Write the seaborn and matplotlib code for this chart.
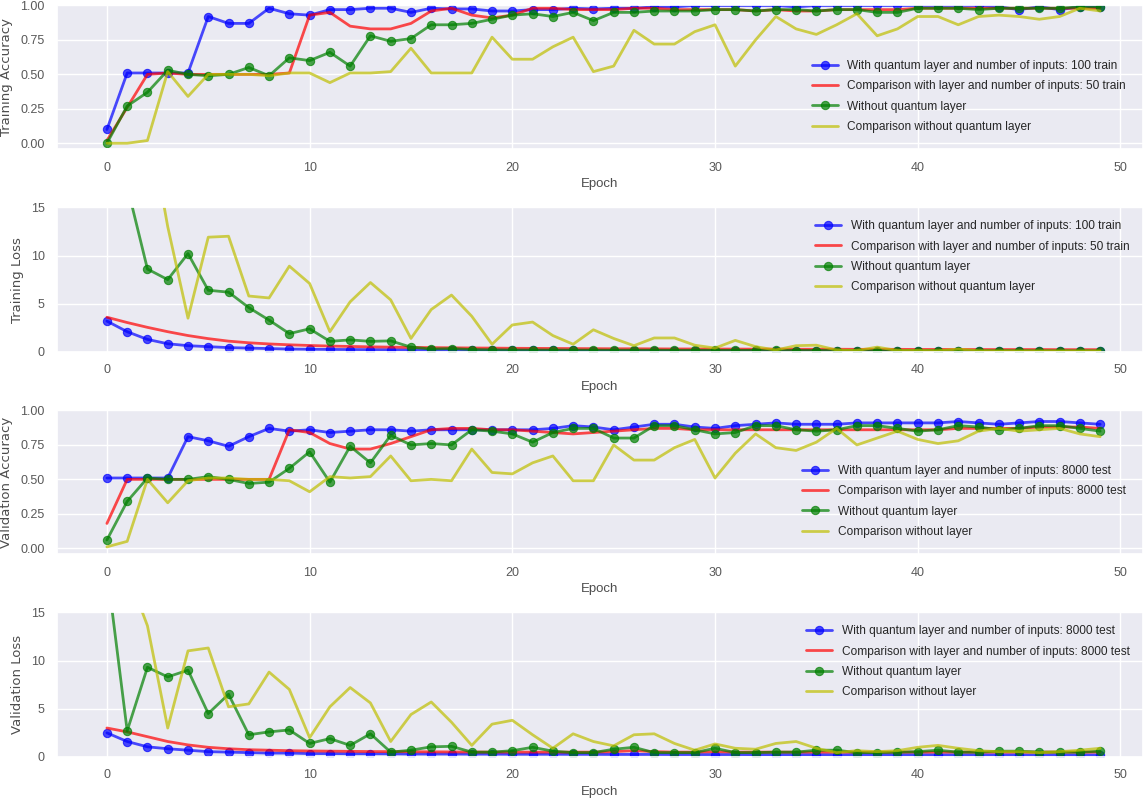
import matplotlib
matplotlib.use("Agg")
import matplotlib.pyplot as plt
import seaborn as sns
import numpy as np
from matplotlib.ticker import FormatStrFormatter

epochs = list(range(50))

# Panel 1: training accuracy
train_acc_q = [0.10, 0.51, 0.51, 0.51, 0.51, 0.92, 0.87, 0.87, 0.98, 0.94,
               0.93, 0.97, 0.97, 0.98, 0.98, 0.95, 0.98, 0.975, 0.975, 0.96,
               0.96, 0.97, 0.97, 0.98, 0.975, 0.98, 0.98, 0.99, 0.99, 1.00,
               1.00, 1.00, 1.00, 1.00, 0.99, 1.00, 1.00, 1.00, 1.00, 1.00,
               1.00, 1.00, 1.00, 1.00, 0.99, 0.97, 0.99, 0.97, 0.99, 0.99]
train_acc_cmp = [0.02, 0.26, 0.50, 0.51, 0.50, 0.50, 0.50, 0.50, 0.50, 0.51,
                 0.93, 0.95, 0.85, 0.83, 0.83, 0.87, 0.96, 0.98, 0.93, 0.91,
                 0.93, 0.98, 0.98, 0.97, 0.97, 0.97, 0.98, 0.98, 0.97, 0.97,
                 0.97, 0.97, 0.96, 0.97, 0.96, 0.96, 0.97, 0.97, 0.97, 0.97,
                 0.98, 0.98, 0.98, 0.98, 0.98, 0.98, 0.98, 0.98, 0.98, 0.98]
train_acc_nq = [0.00, 0.27, 0.37, 0.53, 0.50, 0.49, 0.50, 0.55, 0.49, 0.62,
                0.60, 0.66, 0.56, 0.78, 0.74, 0.76, 0.86, 0.86, 0.87, 0.90,
                0.93, 0.94, 0.92, 0.95, 0.89, 0.95, 0.95, 0.96, 0.96, 0.96,
                0.97, 0.97, 0.96, 0.97, 0.97, 0.96, 0.97, 0.97, 0.95, 0.95,
                0.98, 0.98, 0.98, 0.97, 0.98, 0.98, 0.98, 0.98, 0.99, 0.99]
train_acc_cmp_nq = [0.00, 0.00, 0.02, 0.52, 0.34, 0.50, 0.50, 0.50, 0.49, 0.51,
                    0.51, 0.44, 0.51, 0.51, 0.52, 0.69, 0.51, 0.51, 0.51, 0.77,
                    0.61, 0.61, 0.70, 0.77, 0.52, 0.56, 0.82, 0.72, 0.72, 0.81,
                    0.86, 0.56, 0.75, 0.92, 0.83, 0.79, 0.86, 0.94, 0.78, 0.83,
                    0.92, 0.92, 0.86, 0.92, 0.93, 0.92, 0.90, 0.92, 0.98, 0.96]

# Panel 2: training loss
train_loss_q = [3.2, 2.1, 1.3, 0.85, 0.65, 0.55, 0.45, 0.40, 0.35, 0.30,
                0.28, 0.26, 0.25, 0.24, 0.23, 0.22, 0.20, 0.20, 0.19, 0.18,
                0.17, 0.17, 0.16, 0.16, 0.15, 0.15, 0.14, 0.14, 0.13, 0.13,
                0.12, 0.12, 0.12, 0.11, 0.11, 0.11, 0.10, 0.10, 0.10, 0.10,
                0.09, 0.09, 0.09, 0.09, 0.08, 0.08, 0.08, 0.08, 0.08, 0.07]
train_loss_cmp = [3.6, 3.05, 2.55, 2.1, 1.7, 1.38, 1.12, 0.95, 0.83, 0.74,
                  0.67, 0.61, 0.57, 0.53, 0.50, 0.47, 0.45, 0.43, 0.41, 0.40,
                  0.38, 0.37, 0.36, 0.35, 0.34, 0.33, 0.33, 0.32, 0.31, 0.31,
                  0.30, 0.30, 0.29, 0.29, 0.28, 0.28, 0.28, 0.27, 0.27, 0.27,
                  0.26, 0.26, 0.26, 0.25, 0.25, 0.25, 0.25, 0.24, 0.24, 0.24]
train_loss_nq = [30.0, 17.2, 8.6, 7.5, 10.2, 6.4, 6.2, 4.6, 3.3, 1.9,
                 2.4, 1.1, 1.25, 1.1, 1.15, 0.5, 0.3, 0.35, 0.25, 0.22,
                 0.20, 0.20, 0.20, 0.19, 0.19, 0.18, 0.18, 0.18, 0.17, 0.17,
                 0.17, 0.16, 0.16, 0.16, 0.15, 0.15, 0.15, 0.15, 0.14, 0.14,
                 0.14, 0.14, 0.13, 0.13, 0.13, 0.13, 0.12, 0.12, 0.12, 0.12]
train_loss_cmp_nq = [45.0, 35.0, 24.7, 13.0, 3.5, 11.9, 12.0, 5.8, 5.6, 8.9,
                     7.1, 2.1, 5.2, 7.2, 5.4, 1.4, 4.4, 5.9, 3.7, 0.8,
                     2.8, 3.1, 1.7, 0.8, 2.3, 1.4, 0.65, 1.45, 1.45, 0.7,
                     0.4, 1.2, 0.55, 0.2, 0.65, 0.7, 0.2, 0.15, 0.5, 0.15,
                     0.15, 0.12, 0.3, 0.12, 0.1, 0.1, 0.1, 0.1, 0.1, 0.1]

# Panel 3: validation accuracy
val_acc_q = [0.51, 0.51, 0.51, 0.51, 0.81, 0.78, 0.74, 0.81, 0.87, 0.85,
             0.86, 0.84, 0.85, 0.86, 0.86, 0.85, 0.86, 0.86, 0.86, 0.86,
             0.86, 0.86, 0.87, 0.89, 0.88, 0.86, 0.88, 0.90, 0.90, 0.88,
             0.87, 0.89, 0.90, 0.91, 0.90, 0.90, 0.90, 0.91, 0.91, 0.91,
             0.91, 0.91, 0.92, 0.91, 0.90, 0.91, 0.92, 0.92, 0.91, 0.90]
val_acc_cmp = [0.18, 0.50, 0.50, 0.50, 0.50, 0.50, 0.50, 0.50, 0.50, 0.86,
               0.84, 0.76, 0.72, 0.72, 0.76, 0.81, 0.86, 0.87, 0.87, 0.86,
               0.86, 0.85, 0.84, 0.83, 0.84, 0.85, 0.86, 0.87, 0.87, 0.86,
               0.86, 0.86, 0.86, 0.86, 0.86, 0.86, 0.86, 0.86, 0.86, 0.86,
               0.86, 0.86, 0.87, 0.87, 0.87, 0.87, 0.88, 0.88, 0.88, 0.87]
val_acc_nq = [0.06, 0.34, 0.51, 0.50, 0.50, 0.52, 0.50, 0.47, 0.48, 0.58,
              0.70, 0.48, 0.74, 0.62, 0.82, 0.75, 0.76, 0.75, 0.86, 0.85,
              0.83, 0.77, 0.84, 0.87, 0.87, 0.80, 0.80, 0.89, 0.89, 0.86,
              0.83, 0.84, 0.89, 0.89, 0.86, 0.85, 0.86, 0.89, 0.89, 0.87,
              0.85, 0.86, 0.89, 0.88, 0.86, 0.87, 0.89, 0.89, 0.87, 0.85]
val_acc_cmp_nq = [0.01, 0.05, 0.50, 0.33, 0.49, 0.51, 0.51, 0.50, 0.50, 0.49,
                  0.41, 0.52, 0.51, 0.52, 0.67, 0.49, 0.50, 0.49, 0.72, 0.55,
                  0.54, 0.62, 0.67, 0.49, 0.49, 0.75, 0.64, 0.64, 0.73, 0.79,
                  0.51, 0.69, 0.83, 0.73, 0.71, 0.77, 0.87, 0.75, 0.80, 0.85,
                  0.79, 0.76, 0.78, 0.85, 0.87, 0.85, 0.86, 0.87, 0.83, 0.81]

# Panel 4: validation loss
val_loss_q = [2.5, 1.6, 1.05, 0.85, 0.7, 0.55, 0.5, 0.45, 0.4, 0.4,
              0.35, 0.35, 0.33, 0.33, 0.32, 0.30, 0.30, 0.30, 0.29, 0.29,
              0.28, 0.28, 0.28, 0.27, 0.27, 0.26, 0.26, 0.26, 0.25, 0.25,
              0.25, 0.25, 0.24, 0.24, 0.24, 0.24, 0.23, 0.23, 0.23, 0.23,
              0.23, 0.22, 0.22, 0.22, 0.22, 0.22, 0.21, 0.21, 0.21, 0.21]
val_loss_cmp = [3.0, 2.6, 2.1, 1.6, 1.25, 1.0, 0.85, 0.75, 0.7, 0.65,
                0.62, 0.6, 0.58, 0.56, 0.55, 0.54, 0.53, 0.52, 0.51, 0.5,
                0.5, 0.5, 0.5, 0.5, 0.5, 0.55, 0.65, 0.55, 0.5, 0.5,
                0.55, 0.5, 0.5, 0.5, 0.5, 0.5, 0.5, 0.5, 0.5, 0.5,
                0.5, 0.5, 0.5, 0.5, 0.5, 0.5, 0.5, 0.5, 0.5, 0.5]
val_loss_nq = [19.5, 2.7, 9.3, 8.3, 9.0, 4.5, 6.5, 2.3, 2.6, 2.8,
               1.4, 1.9, 1.2, 2.4, 0.5, 0.7, 1.05, 1.1, 0.5, 0.5,
               0.65, 1.0, 0.6, 0.45, 0.45, 0.8, 1.0, 0.45, 0.45, 0.45,
               0.9, 0.45, 0.45, 0.5, 0.5, 0.7, 0.7, 0.45, 0.45, 0.5,
               0.55, 0.7, 0.5, 0.5, 0.6, 0.6, 0.5, 0.5, 0.5, 0.6]
val_loss_cmp_nq = [25.0, 19.2, 13.6, 3.0, 11.0, 11.3, 5.2, 5.5, 8.8, 7.0,
                   2.0, 5.2, 7.2, 5.6, 1.6, 4.4, 5.7, 3.6, 1.2, 3.4,
                   3.8, 2.3, 0.9, 2.4, 1.6, 1.15, 2.3, 2.4, 1.4, 0.7,
                   1.35, 0.9, 0.8, 1.4, 1.6, 0.9, 0.45, 0.65, 0.55, 0.65,
                   1.0, 1.2, 0.9, 0.65, 0.55, 0.55, 0.45, 0.55, 0.7, 0.9]

train_labels = ["With quantum layer and number of inputs: 100 train",
                "Comparison with layer and number of inputs: 50 train",
                "Without quantum layer",
                "Comparison without quantum layer"]
val_labels = ["With quantum layer and number of inputs: 8000 test",
              "Comparison with layer and number of inputs: 8000 test",
              "Without quantum layer",
              "Comparison without layer"]
ylabels = ["Training Accuracy", "Training Loss", "Validation Accuracy", "Validation Loss"]

series_colors = ["#0000ff", "#ff0000", "#008000", "#bfbf00"]

sns.set_theme(style="darkgrid")
plt.rcParams["font.family"] = ["Liberation Sans", "DejaVu Sans"]
plt.rcParams["xtick.color"] = ".35"
plt.rcParams["ytick.color"] = ".35"
plt.rcParams["axes.labelcolor"] = ".3"

fig, axes = plt.subplots(4, 1, figsize=(11.45, 8.01), dpi=100)
fig.subplots_adjust(left=0.05, right=0.998, top=0.994, bottom=0.055, hspace=0.40)

panels = [
    (train_acc_q, train_acc_cmp, train_acc_nq, train_acc_cmp_nq, train_labels, "acc", "lower right"),
    (train_loss_q, train_loss_cmp, train_loss_nq, train_loss_cmp_nq, train_labels, "loss", "upper right"),
    (val_acc_q, val_acc_cmp, val_acc_nq, val_acc_cmp_nq, val_labels, "acc", "lower right"),
    (val_loss_q, val_loss_cmp, val_loss_nq, val_loss_cmp_nq, val_labels, "loss", "upper right"),
]

for ax, (q, cmp_, nq, cmpnq, labels, kind, loc), ylab in zip(axes, panels, ylabels):
    sns.lineplot(x=epochs, y=q, ax=ax, color=series_colors[0], marker="o", markersize=6,
                 markeredgecolor=series_colors[0], linewidth=2, alpha=0.7, label=labels[0])
    sns.lineplot(x=epochs, y=cmp_, ax=ax, color=series_colors[1], linewidth=2, alpha=0.7,
                 label=labels[1])
    sns.lineplot(x=epochs, y=nq, ax=ax, color=series_colors[2], marker="o", markersize=6,
                 markeredgecolor=series_colors[2], linewidth=2, alpha=0.7, label=labels[2])
    sns.lineplot(x=epochs, y=cmpnq, ax=ax, color=series_colors[3], linewidth=2, alpha=0.7,
                 label=labels[3])
    ax.set_xlim(-2.45, 51.1)
    ax.set_xticks([0, 10, 20, 30, 40, 50])
    if kind == "acc":
        ax.set_ylim(-0.045, 1.005)
        ax.set_yticks([0, 0.25, 0.5, 0.75, 1.0])
        ax.yaxis.set_major_formatter(FormatStrFormatter("%.2f"))
    else:
        ax.set_ylim(0, 15)
        ax.set_yticks([0, 5, 10, 15])
    ax.tick_params(labelsize=9, pad=3)
    ax.set_xlabel("Epoch", fontsize=9.5, labelpad=3)
    ax.set_ylabel(ylab, fontsize=9.5, family=["DejaVu Sans"], labelpad=5)
    ax.legend(loc=loc, frameon=False, fontsize=8.6, handlelength=2.2, labelspacing=0.68,
              borderaxespad=1.0 if loc == "lower right" else 0.7)

fig.savefig("out.png", dpi=100)
